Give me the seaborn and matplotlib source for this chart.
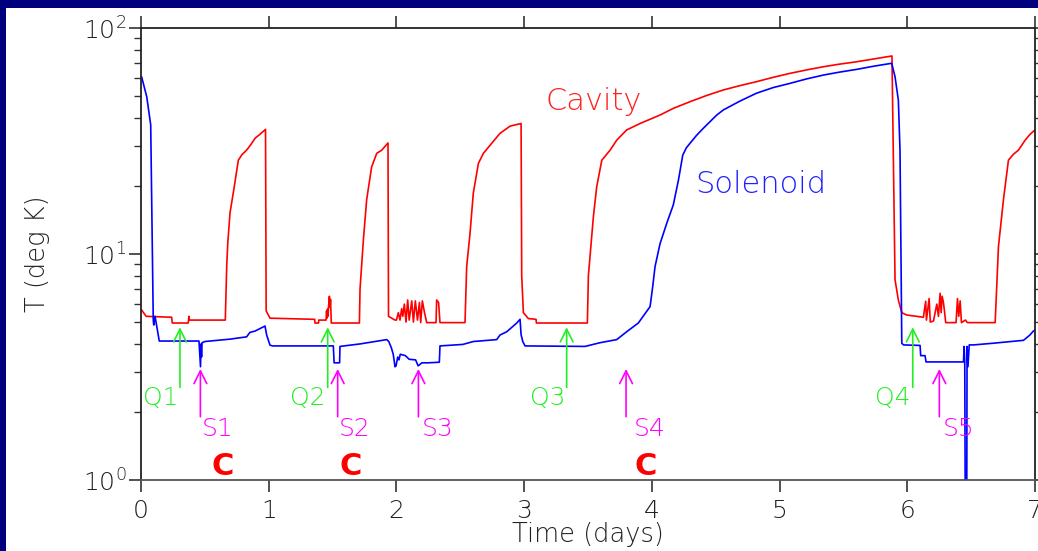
import numpy as np
import pandas as pd
import matplotlib
matplotlib.use("Agg")
import matplotlib.pyplot as plt
from matplotlib.patches import Rectangle
from matplotlib.ticker import LogLocator, NullFormatter, FixedLocator
import seaborn as sns

# ---------------- data ----------------
cavity_day = [0.0, 0.04, 0.24, 0.245, 0.37, 0.375, 0.38, 0.66, 0.671, 0.68, 0.697, 0.73,
              0.762, 0.79, 0.827, 0.86, 0.893, 0.935, 0.975, 0.98, 1.01, 1.36, 1.362,
              1.39, 1.392, 1.449, 1.453, 1.456, 1.46, 1.464, 1.468, 1.475, 1.48, 1.484,
              1.49, 1.71, 1.715, 1.741, 1.767, 1.806, 1.846, 1.885, 1.934, 1.938, 1.989,
              2.0, 2.015, 2.028, 2.041, 2.05, 2.062, 2.075, 2.088, 2.1, 2.12, 2.133,
              2.148, 2.165, 2.18, 2.19, 2.203, 2.22, 2.237, 2.31, 2.315, 2.33, 2.341,
              2.537, 2.55, 2.576, 2.602, 2.642, 2.681, 2.746, 2.811, 2.89, 2.976, 2.981,
              2.994, 3.033, 3.093, 3.096, 3.495, 3.503, 3.542, 3.568, 3.608, 3.673,
              3.725, 3.803, 3.908, 4.064, 4.168, 4.299, 4.43, 4.56, 4.69, 4.821, 4.95,
              5.082, 5.21, 5.343, 5.47, 5.604, 5.74, 5.88, 5.904, 5.93, 5.957, 5.996,
              6.126, 6.144, 6.15, 6.171, 6.18, 6.205, 6.231, 6.244, 6.257, 6.265, 6.273,
              6.283, 6.291, 6.301, 6.382, 6.393, 6.403, 6.414, 6.424, 6.455, 6.471,
              6.688, 6.714, 6.753, 6.792, 6.83, 6.87, 6.923, 6.96, 7.0]
cavity_T = [5.7, 5.3, 5.25, 4.95, 4.95, 5.3, 5.1, 5.1, 8.8, 11.3, 15.2, 19.8,
            26.0, 27.5, 28.8, 30.5, 32.5, 34.0, 35.6, 5.6, 5.2, 5.14, 4.95,
            4.95, 5.1, 5.1, 5.6, 5.2, 5.7, 5.3, 5.8, 6.5, 5.8, 6.3,
            4.95, 4.95, 7.0, 11.5, 17.4, 24.3, 27.9, 28.8, 31.0, 5.3, 5.1,
            5.1, 5.5, 5.1, 5.73, 5.3, 6.0, 5.0, 6.26, 5.1, 6.2, 5.0,
            6.2, 5.1, 6.1, 4.97, 6.2, 5.5, 4.97, 4.97, 6.26, 6.1, 4.97,
            4.97, 8.8, 12.3, 18.6, 25.2, 27.9, 30.9, 34.2, 36.8, 37.8, 8.0,
            5.5, 5.18, 5.14, 4.95, 4.95, 8.0, 14.6, 19.8, 26.0, 28.8,
            31.9, 35.4, 37.8, 41.2, 44.1, 47.2, 50.3, 53.2, 55.6, 57.9, 60.5,
            63.0, 65.2, 67.4, 69.2, 70.9, 73.0, 75.2, 7.7, 6.26, 5.5, 5.37,
            5.25, 6.18, 5.1, 6.35, 5.0, 5.05, 6.0, 5.3, 6.7, 5.5, 6.5,
            6.1, 5.6, 4.97, 4.97, 6.35, 5.3, 6.2, 4.97, 5.1, 4.97,
            4.97, 10.8, 17.4, 26.0, 27.6, 28.8, 31.9, 33.8, 35.4]

solenoid_day = [0.005, 0.045, 0.076, 0.096, 0.1, 0.11, 0.143, 0.454, 0.466, 0.47, 0.474,
                0.478, 0.5, 0.697, 0.827, 0.853, 0.893, 0.971, 0.984, 1.01, 1.03, 1.506,
                1.512, 1.555, 1.558, 1.715, 1.924, 1.94, 1.96, 1.975, 1.989, 1.997, 2.01,
                2.02, 2.03, 2.07, 2.1, 2.15, 2.17, 2.2, 2.25, 2.336, 2.341, 2.52, 2.602,
                2.785, 2.811, 2.864, 2.942, 2.968, 2.976, 2.989, 3.007, 3.477, 3.594,
                3.725, 3.803, 3.894, 3.986, 4.007, 4.025, 4.064, 4.117, 4.168, 4.208,
                4.242, 4.27, 4.299, 4.35, 4.403, 4.508, 4.56, 4.69, 4.821, 4.95, 5.082,
                5.21, 5.343, 5.47, 5.604, 5.74, 5.878, 5.904, 5.93, 5.943, 5.957, 5.97,
                6.1, 6.105, 6.139, 6.147, 6.44, 6.445, 6.45, 6.455, 6.465, 6.468, 6.475,
                6.485, 6.518, 6.675, 6.91, 6.96, 6.987, 7.0]
solenoid_T = [60.8, 49.6, 37.3, 5.1, 4.85, 5.3, 4.12, 4.12, 3.17, 4.0, 3.5,
              4.05, 4.1, 4.2, 4.3, 4.5, 4.56, 4.8, 4.38, 3.95, 3.92, 3.92,
              3.3, 3.3, 3.9, 4.0, 4.18, 4.1, 3.85, 3.6, 3.17, 3.2, 3.5,
              3.4, 3.6, 3.55, 3.42, 3.4, 3.2, 3.3, 3.3, 3.32, 3.92, 3.98, 4.1,
              4.18, 4.38, 4.53, 4.95, 5.14, 4.4, 4.1, 3.92, 3.9, 4.05,
              4.18, 4.53, 4.95, 5.85, 7.2, 8.8, 11.1, 13.7, 16.5, 21.2,
              27.4, 29.5, 30.9, 33.5, 36.0, 41.2, 43.4, 47.5, 51.5, 54.5, 56.9,
              59.5, 61.9, 63.8, 65.6, 67.8, 69.8, 60.9, 48.0, 28.8, 4.03, 3.96,
              3.94, 3.55, 3.55, 3.33, 3.33, 3.9, 3.33, 0.5, 0.5, 3.9, 3.17,
              3.96, 3.96, 4.03, 4.15, 4.38, 4.56, 4.6]

series_names = ["Cavity", "Solenoid"]
q_labels = ["Q1", "Q2", "Q3", "Q4"]
q_arrow_day = [0.305, 1.462, 3.333, 6.043]
q_text_day = [0.153, 1.308, 3.183, 5.885]
s_labels = ["S1", "S2", "S3", "S4", "S5"]
s_arrow_day = [0.465, 1.540, 2.172, 3.798, 6.251]
s_text_day = [0.598, 1.676, 2.326, 3.982, 6.40]
c_labels = ["C", "C", "C"]
c_day = [0.638, 1.644, 3.955]

# ---------------- figure ----------------
sns.set_style("ticks")
plt.rcParams["font.family"] = ["DejaVu Sans"]
plt.rcParams["font.weight"] = "light"
plt.rcParams["axes.labelweight"] = "light"
plt.rcParams["mathtext.default"] = "regular"

NAVY = "#00007f"
RED = "#ff0000"
BLUE = "#0000ff"
GREEN = "#22ee22"
MAGENTA = "#ff00ff"

fig = plt.figure(figsize=(10.38, 5.51), dpi=100, facecolor=NAVY)
fig.patches.append(Rectangle((6 / 1038, 0), 1.0, 1 - 8 / 551, transform=fig.transFigure,
                             facecolor="white", edgecolor="none", zorder=-10))
ax = fig.add_axes([141 / 1038, 1 - 480 / 551, (1035 - 141) / 1038, (480 - 28) / 551])
ax.set_zorder(5)
ax.set_facecolor("white")

df = pd.concat([
    pd.DataFrame({"day": cavity_day, "T": cavity_T, "series": series_names[0]}),
    pd.DataFrame({"day": solenoid_day, "T": solenoid_T, "series": series_names[1]}),
])
sns.lineplot(data=df, x="day", y="T", hue="series", palette=[RED, BLUE],
             estimator=None, sort=False, linewidth=1.2, legend=False, ax=ax)

ax.set_yscale("log")
ax.set_xlim(0, 7)
ax.set_ylim(1, 100)
ax.xaxis.set_major_locator(FixedLocator(range(8)))
ax.yaxis.set_major_locator(LogLocator(base=10, numticks=10))
ax.yaxis.set_minor_locator(LogLocator(base=10, subs=np.arange(2, 10), numticks=10))
ax.yaxis.set_minor_formatter(NullFormatter())

for sp in ax.spines.values():
    sp.set_color("#222222")
    sp.set_linewidth(1.3)
ax.spines["bottom"].set_color("#555555")
ax.tick_params(axis="both", which="major", direction="out", length=8.5, width=1.2,
               color="#333333", labelsize=18, labelcolor="#222222",
               top=True, right=True, pad=5)
ax.tick_params(axis="y", which="minor", direction="out", length=5, width=1.0,
               color="#333333", right=True)
ax.tick_params(axis="y", which="major", pad=2)

ax.set_xlabel("Time (days)", fontsize=18.5, color="#222222", fontweight="light")
ax.set_ylabel("T (deg K)", fontsize=18.5, color="#222222", fontweight="light")
ax.xaxis.set_label_coords(0.5, -0.093)
ax.yaxis.set_label_coords(-0.102, 0.5)

# series names
ax.text(3.164, 43.3, "Cavity", color="#ff2020", fontsize=22, ha="left", va="baseline")
ax.text(4.338, 18.56, "Solenoid", color="#2020ff", fontsize=22, ha="left", va="baseline")

arrow_kw = dict(arrowstyle="->,head_length=0.4,head_width=0.2", lw=1.2,
                mutation_scale=23, shrinkA=0, shrinkB=0)
for lab, xa, xt in zip(q_labels, q_arrow_day, q_text_day):
    ax.annotate("", xy=(xa, 4.74), xytext=(xa, 2.57),
                arrowprops=dict(color=GREEN, **arrow_kw))
    ax.text(xt, 2.15, lab, color=GREEN, fontsize=18, ha="center", va="baseline")
for lab, xa, xt in zip(s_labels, s_arrow_day, s_text_day):
    ax.annotate("", xy=(xa, 3.1), xytext=(xa, 1.905),
                arrowprops=dict(color=MAGENTA, **arrow_kw))
    ax.text(xt, 1.57, lab, color=MAGENTA, fontsize=18, ha="center", va="baseline")
for lab, xc in zip(c_labels, c_day):
    ax.text(xc, 1.052, lab, color=RED, fontsize=22, fontweight="bold",
            ha="center", va="baseline")

fig.savefig("out.png", dpi=100, facecolor=NAVY)
